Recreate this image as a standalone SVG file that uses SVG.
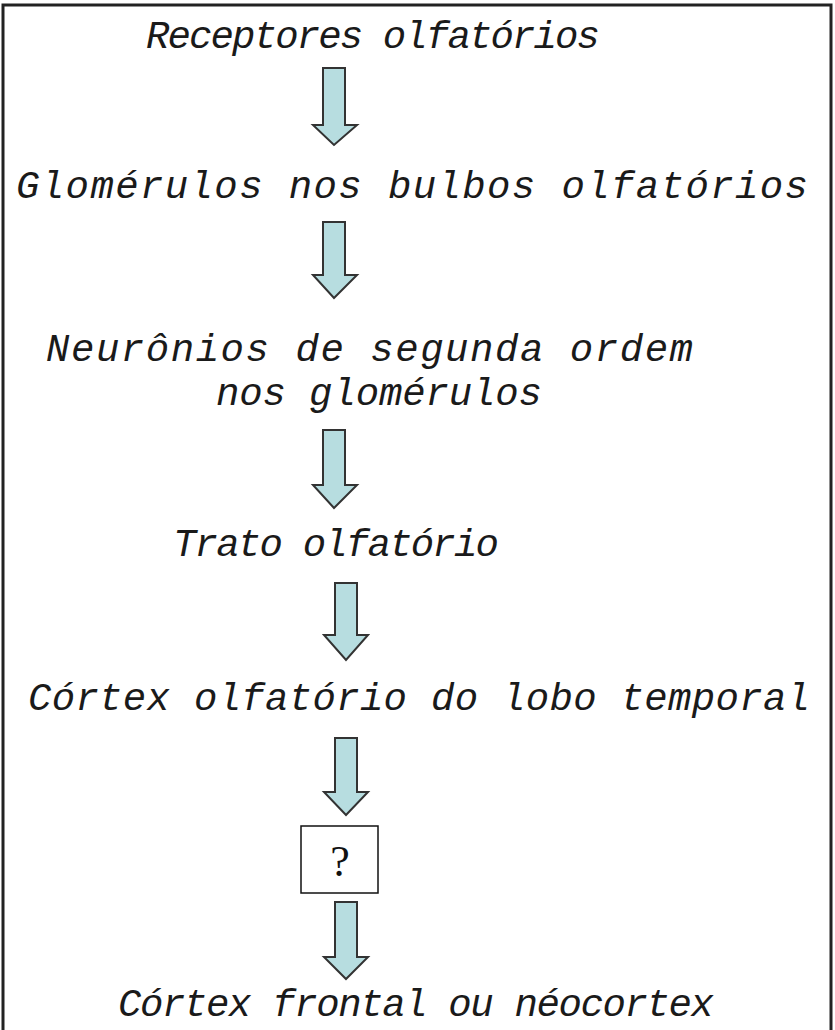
<svg xmlns="http://www.w3.org/2000/svg" width="835" height="1030" viewBox="0 0 835 1030">
<style>
.t{font-family:"Liberation Mono","DejaVu Sans Mono",monospace;font-style:italic;font-size:39px;fill:#1a1a1a;}
.q{font-family:"Liberation Serif","DejaVu Serif",serif;font-size:44px;fill:#111;}
.arr{fill:#b7dde0;stroke:#333;stroke-width:2;stroke-linejoin:miter;}
.box{fill:#fff;stroke:#111;stroke-width:1.5;}
</style>
<rect x="3" y="5" width="828" height="1100" fill="#fff" stroke="#222" stroke-width="3"/>
<g id="connectors">
<path class="arr" d="M323,68 H345 V125 H357 L334,145 L313,125 H323 Z"/>
<path class="arr" d="M323,222 H345 V275 H357 L334,298 L313,275 H323 Z"/>
<path class="arr" d="M323,430 H345 V485 H357 L334,508 L313,485 H323 Z"/>
<path class="arr" d="M335,583 H357 V635 H368 L346,660 L324,635 H335 Z"/>
<path class="arr" d="M335,738 H357 V792 H368 L346,815 L324,792 H335 Z"/>
<path class="arr" d="M335,902 H357 V957 H368 L346,979 L324,957 H335 Z"/>
</g>
<g id="n1"><text class="t" x="146" y="48" textLength="454" lengthAdjust="spacing">Receptores olfatórios</text></g>
<g id="n2"><text class="t" x="16" y="198" textLength="792" lengthAdjust="spacing">Glomérulos nos bulbos olfatórios</text></g>
<g id="n3"><text class="t" x="46" y="361" textLength="647" lengthAdjust="spacing">Neurônios de segunda ordem</text>
<text class="t" x="216" y="405" textLength="326" lengthAdjust="spacing">nos glomérulos</text></g>
<g id="n4"><text class="t" x="173" y="556" textLength="326" lengthAdjust="spacing">Trato olfatório</text></g>
<g id="n5"><text class="t" x="28" y="710" textLength="782" lengthAdjust="spacing">Córtex olfatório do lobo temporal</text></g>
<g id="n6"><rect class="box" x="301" y="826" width="77" height="67"/><text class="q" x="340" y="876" text-anchor="middle">?</text></g>
<g id="n7"><text class="t" x="118" y="1016" textLength="596" lengthAdjust="spacing">Córtex frontal ou néocortex</text></g>
</svg>
